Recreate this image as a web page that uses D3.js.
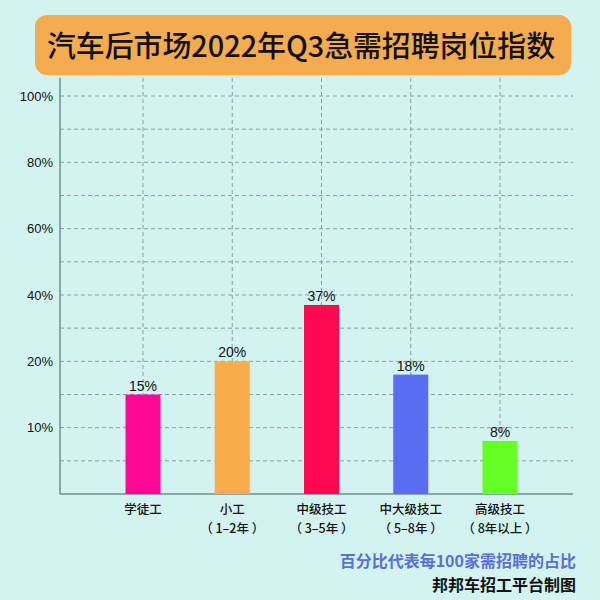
<!DOCTYPE html>
<html><head><meta charset="utf-8">
<script src="https://cdn.jsdelivr.net/npm/d3@7"></script>
<style>html,body{margin:0;padding:0;background:#d2f3f0;}svg{display:block;}</style>
</head><body>
<svg id="c" width="600" height="600"></svg>
<script>
const title = "汽车后市场2022年Q3急需招聘岗位指数";
const categories = ["学徒工", "小工", "中级技工", "中大级技工", "高级技工"];
const subLabels = ["", "（ 1–2年 ）", "（ 3–5年 ）", "（ 5–8年 ）", "（ 8年以上 ）"];
const values = [15, 20, 37, 18, 8];
const barColors = ["#ff0898", "#f7ad4a", "#ff0852", "#5b6ef2", "#66ff26"];
const tickValues = [10, 20, 40, 60, 80, 100];
const note1 = "百分比代表每100家需招聘的占比";
const note2 = "邦邦车招工平台制图";

(function(){
const svg = d3.select("#c");
const font = "'Noto Sans CJK SC', 'Noto Sans', sans-serif";
svg.append("rect").attr("width",600).attr("height",600).attr("fill","#d2f3f0");

// title banner
svg.append("rect").attr("x",35).attr("y",15).attr("width",536).attr("height",60)
  .attr("rx",12).attr("fill","#f5ab4f");
svg.append("text").attr("x",301).attr("y",57).attr("text-anchor","middle")
  .attr("font-family",font).attr("font-size",29).attr("font-weight",500)
  .attr("fill","#111").attr("textLength",508).attr("lengthAdjust","spacingAndGlyphs").text(title);

const pLeft = 60, pRight = 573, pTop = 96, base = 494;
const step = (base - pTop) / 12;
const yDomain = [0].concat(tickValues);
const yRange = yDomain.map((d,i)=> base - i*2*step);
const y = d3.scaleLinear().domain(yDomain).range(yRange);
const x = d3.scalePoint().domain(categories).range([143, 500]);

const g = svg.append("g");
d3.range(1,13).forEach(i=>{
  g.append("line").attr("x1",pLeft).attr("x2",pRight)
   .attr("y1",base - i*step).attr("y2",base - i*step)
   .attr("stroke","#8c9e9e").attr("stroke-width",1).attr("stroke-dasharray","4,3");
});
categories.forEach(c=>{
  g.append("line").attr("x1",x(c)).attr("x2",x(c)).attr("y1",78).attr("y2",base)
   .attr("stroke","#8c9e9e").attr("stroke-width",1).attr("stroke-dasharray","4,3");
});

const yAxis = d3.axisLeft(y).tickValues(tickValues).tickSize(0).tickPadding(7).tickFormat(d=>d+"%");
const ya = svg.append("g").attr("transform",`translate(${pLeft},0)`).call(yAxis);
ya.select(".domain").remove();
ya.selectAll("text").attr("font-family","'Liberation Sans', Arial, sans-serif").attr("font-size",13).attr("fill","#111");
svg.append("line").attr("x1",pLeft).attr("x2",pLeft).attr("y1",78).attr("y2",base).attr("stroke","#6f8f90").attr("stroke-width",1.5);
svg.append("line").attr("x1",pLeft).attr("x2",pRight).attr("y1",base).attr("y2",base).attr("stroke","#6f8f90").attr("stroke-width",1.5);

const bw = 35;
svg.selectAll("rect.bar").data(values).enter().append("rect").attr("class","bar")
  .attr("x",(d,i)=>x(categories[i]) - bw/2).attr("width",bw)
  .attr("y",d=>y(d)).attr("height",d=>base - y(d)).attr("fill",(d,i)=>barColors[i]);
svg.selectAll("text.val").data(values).enter().append("text").attr("class","val")
  .attr("x",(d,i)=>x(categories[i])).attr("y",d=>y(d)-4).attr("text-anchor","middle")
  .attr("font-family","'Liberation Sans', Arial, sans-serif").attr("font-size",14).attr("fill","#111")
  .text(d=>d+"%");

categories.forEach((c,i)=>{
  svg.append("text").attr("x",x(c)).attr("y",514).attr("text-anchor","middle")
    .attr("font-family",font).attr("font-size",12.5).attr("font-weight",500).attr("fill","#111").text(c);
  if (subLabels[i]) svg.append("text").attr("x",x(c)).attr("y",533).attr("text-anchor","middle")
    .attr("font-family",font).attr("font-size",12.5).attr("font-weight",500).attr("fill","#111")
    .attr("xml:space","preserve").style("white-space","pre").text(subLabels[i]);
});

svg.append("text").attr("x",576).attr("y",567).attr("text-anchor","end")
  .attr("font-family",font).attr("font-size",16).attr("font-weight",700).attr("fill","#5b6fd8").text(note1);
svg.append("text").attr("x",576).attr("y",591).attr("text-anchor","end")
  .attr("font-family",font).attr("font-size",16).attr("font-weight",700).attr("fill","#111").text(note2);
})();
</script>
</body></html>
